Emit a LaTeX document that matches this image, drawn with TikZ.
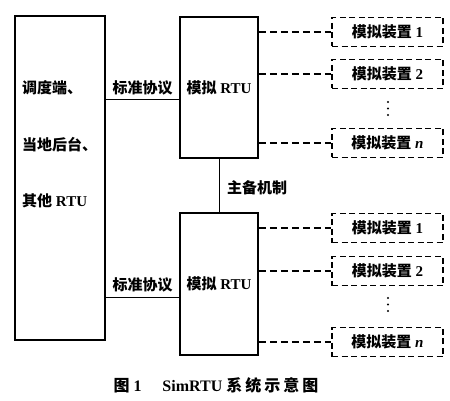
\documentclass[tikz,border=0pt]{standalone}
\usepackage{fontspec}
\setmainfont{Liberation Serif}
\newfontfamily\cjk{Noto Sans CJK SC}
\usepackage{tikz}
\newcommand{\zh}[1]{{\cjk\bfseries #1}}
\tikzset{
    blockbox/.style={draw, line width=1.8pt, inner sep=0pt},
    devbox/.style={draw, line width=1.4pt, dash pattern=on 6pt off 3.5pt,
        minimum width=111pt, minimum height=29pt, inner sep=0pt,
        font=\fontsize{15}{18}\selectfont},
    link/.style={line width=1pt},
    dlink/.style={line width=1.4pt, dash pattern=on 7pt off 4pt},
    lbl/.style={inner sep=0pt, font=\fontsize{15}{18}\selectfont},
    dot/.style={fill, circle, inner sep=0pt, minimum size=2.4pt}
}

\begin{document}
\begin{tikzpicture}[x=1pt, y=-1pt]
                        \useasboundingbox (0,0) rectangle (450,401);

                        \node[blockbox, minimum width=90pt, minimum height=324pt] (dispatch) at (60,178) {};
                        \node[lbl, anchor=west] (disp1) at (22,88) {\zh{调度端、}};
                        \node[lbl, anchor=west] (disp2) at (22,145) {\zh{当地后台、}};
                        \node[lbl, anchor=west] (disp3) at (22,201) {\zh{其他} \textbf{RTU}};

                        \node[blockbox, minimum width=78pt, minimum height=141pt, lbl] (rtuA) at (219,87.5) {\zh{模拟} \textbf{RTU}};
                        \node[blockbox, minimum width=78pt, minimum height=142pt, lbl] (rtuB) at (219,284) {\raisebox{-6pt}{\zh{模拟} \textbf{RTU}}};

                        \coordinate (protoA) at (0,100);
                        \coordinate (protoB) at (0,297);
                        \draw[link] (dispatch.east |- protoA) -- (rtuA.west |- protoA);
                        \draw[link] (dispatch.east |- protoB) -- (rtuB.west |- protoB);
                        \node[lbl, anchor=south] (protoAlbl) at (142.5,95) {\zh{标准协议}};
                        \node[lbl, anchor=south] (protoBlbl) at (142.5,292) {\zh{标准协议}};

                        \draw[link] (rtuA.south) -- (rtuB.north);
                        \node[lbl, anchor=west] (backup) at (227,188) {\zh{主备机制}};

                        \node[devbox] (devA1) at (387.5,32) {\zh{模拟装置} \textbf{1}};
                        \node[devbox] (devA2) at (387.5,74) {\zh{模拟装置} \textbf{2}};
                        \node[devbox] (devAn) at (387.5,143) {\zh{模拟装置} \textbf{\textit{n}}};

                        \node[devbox] (devB1) at (387.5,228) {\zh{模拟装置} \textbf{1}};
                        \node[devbox] (devB2) at (387.5,271) {\zh{模拟装置} \textbf{2}};
                        \node[devbox] (devBn) at (387.5,342) {\zh{模拟装置} \textbf{\textit{n}}};

                        \foreach \y in {102,108.5,115,298,304.5,311}
                            \node[dot] at (388,\y) {};

                        \foreach \d in {devA1,devA2,devAn}
                            \draw[dlink] (rtuA.east |- \d.west) -- (\d.west);
                        \foreach \d in {devB1,devB2,devBn}
                            \draw[dlink] (rtuB.east |- \d.west) -- (\d.west);

                        \node[inner sep=0pt, font=\fontsize{16}{19}\selectfont] (caption) at (216,385)
                            {\zh{图}\ \textbf{1}\hspace{1.3em}\textbf{SimRTU} \zh{系\hspace{3pt}统\hspace{3pt}示\hspace{3pt}意\hspace{3pt}图}};
                    \end{tikzpicture}
\end{document}
